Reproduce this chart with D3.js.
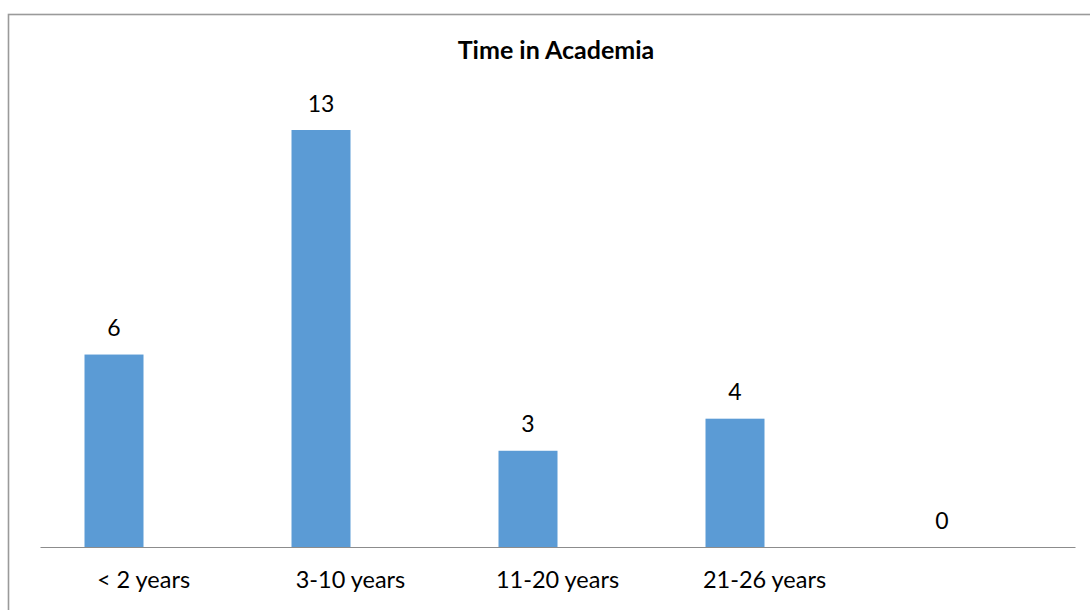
<!DOCTYPE html>
<html>
<head>
<meta charset="utf-8">
<script src="https://cdn.jsdelivr.net/npm/d3@7"></script>
<style>
  html, body { margin: 0; padding: 0; background: #fff; }
  svg { display: block; }
  text { font-family: Lato, "Open Sans", sans-serif; fill: #000; }
</style>
</head>
<body>
<svg id="chart" width="1090" height="610"></svg>
<script>
// Survey responses: how long respondents have been in academia
const categories = ["< 2 years", "3-10 years", "11-20 years", "21-26 years", ""];
const counts = [6, 13, 3, 4, 0];
const chartTitle = "Time in Academia";

const W = 1090, H = 610;
const margin = { left: 40, right: 15, top: 130, bottom: 63 };
const fontFamily = "Lato, 'Open Sans', sans-serif";
const svg = d3.select("#chart");

// outer chart frame (only top and left edges fall inside the view)
svg.append("rect")
  .attr("x", 8.5).attr("y", 14.5)
  .attr("width", W + 20).attr("height", H + 20)
  .attr("fill", "none")
  .attr("stroke", "#9a9a9a")
  .attr("stroke-width", 1.6);

const x = d3.scaleBand()
  .domain(d3.range(categories.length))
  .range([margin.left, W - margin.right])
  .padding(0);

const y = d3.scaleLinear()
  .domain([0, d3.max(counts)])
  .range([H - margin.bottom, margin.top]);

const barW = x.bandwidth() * 0.285;

// bars sit just left of each category centre
svg.append("g").selectAll("rect")
  .data(counts)
  .join("rect")
  .attr("x", (d, i) => x(i) + x.bandwidth() / 2 - barW)
  .attr("y", d => y(d))
  .attr("width", barW)
  .attr("height", d => y(0) - y(d))
  .attr("fill", "#5b9bd5");

// value labels above bars
svg.append("g").selectAll("text")
  .data(counts)
  .join("text")
  .attr("x", (d, i) => x(i) + x.bandwidth() / 2 - barW / 2)
  .attr("y", d => y(d) - 18.5)
  .attr("text-anchor", "middle")
  .attr("font-size", 23)
  .text(d => d);

// category axis
const xAxis = d3.axisBottom(x)
  .tickSize(0)
  .tickFormat(i => categories[i]);

const gx = svg.append("g")
  .attr("transform", `translate(0,${y(0)})`)
  .call(xAxis);
gx.select(".domain").attr("stroke", "#8c8c8c").attr("stroke-width", 1.2);
gx.selectAll("text")
  .attr("y", 41)
  .attr("dy", null)
  .attr("font-size", 23.5)
  .attr("font-family", fontFamily)
  .attr("fill", "#000");

// title
svg.append("text")
  .attr("x", 556)
  .attr("y", 59)
  .attr("text-anchor", "middle")
  .attr("font-size", 25)
  .attr("font-weight", "bold")
  .text(chartTitle);
</script>
</body>
</html>
